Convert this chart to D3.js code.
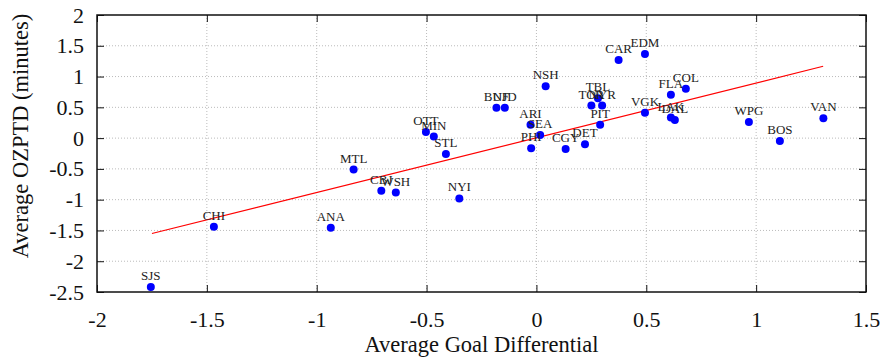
<!DOCTYPE html>
<html>
<head>
<meta charset="utf-8">
<script src="https://cdn.jsdelivr.net/npm/d3@7"></script>
<style>
  body { margin: 0; background: #fff; }
  text { font-family: "Liberation Serif", "Times New Roman", serif; fill: #111; }
</style>
</head>
<body>
<div id="chart"></div>
<script>
// team data
const teams = ["SJS", "CHI", "ANA", "MTL", "CBJ", "WSH", "NYI", "OTT", "MIN", "STL",
  "BUF", "NJD", "NSH", "ARI", "SEA", "PHI", "CGY", "DET", "TBL", "TOR", "NYR", "PIT",
  "CAR", "EDM", "VGK", "FLA", "COL", "LAK", "DAL", "WPG", "BOS", "VAN"];
const goalDiff = [-1.755, -1.468, -0.936, -0.832, -0.706, -0.64, -0.351, -0.503, -0.467, -0.412,
  -0.182, -0.144, 0.042, -0.027, 0.017, -0.024, 0.133, 0.221, 0.28, 0.25, 0.299, 0.29,
  0.374, 0.494, 0.494, 0.612, 0.68, 0.612, 0.63, 0.967, 1.108, 1.306];
const ozptd = [-2.42, -1.44, -1.458, -0.51, -0.857, -0.885, -0.98, 0.10, 0.025, -0.26,
  0.495, 0.495, 0.842, 0.219, 0.052, -0.164, -0.175, -0.10, 0.648, 0.528, 0.528, 0.219,
  1.27, 1.367, 0.414, 0.706, 0.80, 0.333, 0.295, 0.263, -0.045, 0.323];

// fitted line end points
const fitX = [-1.75, 1.305];
const fitY = [-1.55, 1.167];

const xTicks = [-2, -1.5, -1, -0.5, 0, 0.5, 1, 1.5];
const yTicks = [2, 1.5, 1, 0.5, 0, -0.5, -1, -1.5, -2, -2.5];

const width = 883;
const height = 358;
const margin = { top: 15, right: 17, bottom: 66, left: 97 };
const w = width - margin.left - margin.right;
const h = height - margin.top - margin.bottom;

const svg = d3.select("div#chart").append("svg").attr("width", width).attr("height", height);
const g = svg.append("g").attr("transform", `translate(${margin.left}, ${margin.top})`);

const x = d3.scaleLinear().domain([-2, 1.5]).range([0, w]);
const y = d3.scaleLinear().domain([-2.5, 2]).range([h, 0]);

// grid
const grid = g.append("g").attr("class", "grid");
grid.selectAll(".gx").data(xTicks.slice(1, -1)).enter().append("line")
  .attr("x1", d => x(d)).attr("x2", d => x(d)).attr("y1", 0).attr("y2", h)
  .attr("stroke", "#bbb").attr("stroke-width", 1).attr("stroke-dasharray", "1,2");
grid.selectAll(".gy").data(yTicks.slice(1, -1)).enter().append("line")
  .attr("y1", d => y(d)).attr("y2", d => y(d)).attr("x1", 0).attr("x2", w)
  .attr("stroke", "#bbb").attr("stroke-width", 1).attr("stroke-dasharray", "1,2");

// axes (ticks pointing inward on all sides)
const fmt = d => String(d);
const xAxis = d3.axisBottom(x).tickValues(xTicks).tickSize(-7).tickPadding(19).tickFormat(fmt);
const xTop = d3.axisTop(x).tickValues(xTicks).tickSize(-7).tickFormat("");
const yAxis = d3.axisLeft(y).tickValues(yTicks).tickSize(-7).tickPadding(13).tickFormat(fmt);
const yRight = d3.axisRight(y).tickValues(yTicks).tickSize(-7).tickFormat("");

const gx = g.append("g").attr("transform", `translate(0, ${h})`).call(xAxis);
const gxt = g.append("g").call(xTop);
const gy = g.append("g").call(yAxis);
const gyr = g.append("g").attr("transform", `translate(${w}, 0)`).call(yRight);
[gx, gxt, gy, gyr].forEach(a => {
  a.select(".domain").remove();
  a.selectAll("line").attr("stroke", "#111");
});
gx.selectAll("text").attr("font-size", 22).attr("font-family", "Liberation Serif").attr("fill", "#111");
gy.selectAll("text").attr("font-size", 22).attr("font-family", "Liberation Serif").attr("fill", "#111");

// frame
g.append("rect").attr("width", w).attr("height", h)
  .attr("fill", "none").attr("stroke", "#111").attr("stroke-width", 1.5);

// regression line
const line = d3.line().x(d => x(d[0])).y(d => y(d[1]));
g.append("path").datum(d3.zip(fitX, fitY))
  .attr("d", line).attr("stroke", "#ff0000").attr("stroke-width", 1.2).attr("fill", "none");

// points and labels
const data = teams.map((t, i) => ({ team: t, gd: goalDiff[i], oz: ozptd[i] }));
g.selectAll(".dot").data(data).enter().append("circle")
  .attr("cx", d => x(d.gd)).attr("cy", d => y(d.oz)).attr("r", 4)
  .attr("fill", "#0000ff");
g.selectAll(".lbl").data(data).enter().append("text")
  .attr("x", d => x(d.gd)).attr("y", d => y(d.oz) - 7)
  .attr("text-anchor", "middle").attr("font-size", 13).style("fill", "#222")
  .text(d => d.team);

// axis titles
svg.append("text").attr("x", margin.left + w / 2).attr("y", 352)
  .attr("text-anchor", "middle").attr("font-size", 22.5).text("Average Goal Differential");
svg.append("text").attr("transform", `translate(28, 136) rotate(-90)`)
  .attr("text-anchor", "middle").attr("font-size", 22.5).text("Average OZPTD (minutes)");
</script>
</body>
</html>
